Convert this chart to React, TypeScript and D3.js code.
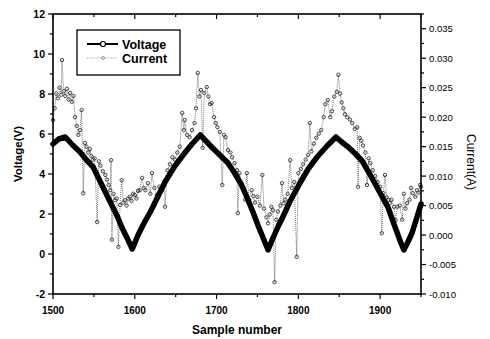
import * as d3 from "d3";

// ── Data ──────────────────────────────────────────────────
const voltSample = [
  1500, 1507, 1515, 1524, 1533, 1541, 1549, 1555, 1561, 1567, 1573, 1579, 1584, 1590, 1597,
  1604, 1612, 1619, 1628, 1637, 1649, 1661, 1670, 1680, 1687, 1694, 1704, 1714, 1722, 1730,
  1737, 1744, 1751, 1757, 1763, 1769, 1775, 1781, 1790, 1802, 1812, 1823, 1835, 1846, 1853,
  1861, 1870, 1878, 1886, 1894, 1902, 1910, 1916, 1921, 1925, 1929, 1934, 1939, 1944, 1950,
];
const voltage = [
  5.5, 5.75, 5.85, 5.45, 5.1, 4.7, 4.35, 3.85, 3.35, 2.85, 2.35, 1.85, 1.35, 0.85, 0.25,
  0.95, 1.6, 2.1, 2.85, 3.6, 4.4, 5.05, 5.5, 5.95, 5.65, 5.35, 4.95, 4.55, 4.05, 3.5,
  2.85, 2.15, 1.4, 0.8, 0.2, 0.8, 1.35, 1.85, 2.65, 3.55, 4.25, 4.85, 5.4, 5.85, 5.6,
  5.35, 5.0, 4.65, 4.1, 3.5, 2.9, 2.3, 1.6, 1.05, 0.6, 0.2, 0.6, 1.05, 1.7, 2.5,
];

const curSample = [
  1500, 1502, 1504, 1506, 1508, 1510, 1511, 1513, 1515, 1517, 1519, 1521, 1523, 1525, 1527,
  1529, 1531, 1533, 1535, 1537, 1539, 1541, 1543, 1545, 1547, 1549, 1551, 1554, 1556, 1558,
  1561, 1564, 1566, 1568, 1570, 1571, 1572, 1574, 1576, 1578, 1580, 1582, 1584, 1586, 1588,
  1590, 1592, 1594, 1596, 1598, 1600, 1602, 1604, 1606, 1609, 1611, 1613, 1616, 1619, 1621,
  1624, 1627, 1630, 1633, 1636, 1637, 1640, 1643, 1646, 1649, 1652, 1655, 1658, 1660, 1661,
  1664, 1667, 1670, 1673, 1675, 1677, 1679, 1681, 1683, 1685, 1688, 1690, 1692, 1694, 1697,
  1699, 1701, 1704, 1707, 1709, 1711, 1714, 1717, 1719, 1722, 1725, 1726, 1728, 1731, 1733,
  1735, 1737, 1740, 1743, 1745, 1747, 1750, 1753, 1756, 1758, 1761, 1763, 1765, 1767, 1769,
  1771, 1773, 1775, 1778, 1780, 1782, 1784, 1787, 1790, 1792, 1795, 1798, 1800, 1803, 1806,
  1809, 1812, 1814, 1816, 1819, 1822, 1825, 1828, 1831, 1833, 1836, 1839, 1841, 1844, 1847,
  1849, 1851, 1853, 1855, 1857, 1860, 1863, 1866, 1869, 1872, 1873, 1875, 1877, 1879, 1882,
  1884, 1886, 1888, 1891, 1894, 1897, 1900, 1902, 1904, 1906, 1908, 1910, 1912, 1914, 1917,
  1919, 1921, 1924, 1927, 1929, 1931, 1933, 1936, 1938, 1940, 1943, 1945, 1947, 1949, 1950,
];
const current = [
  0.0195, 0.0215, 0.024, 0.0232, 0.025, 0.0238, 0.0297, 0.0244, 0.0236, 0.0248, 0.023, 0.0241, 0.0226, 0.0236, 0.02,
  0.0185, 0.017, 0.0178, 0.0212, 0.0071, 0.0156, 0.015, 0.014, 0.0146, 0.0134, 0.0128, 0.013, 0.0022, 0.0125, 0.0118,
  0.0108, 0.0102, 0.0094, 0.0085, 0.0076, 0.0127, -0.0008, 0.007, 0.0059, 0.0062, -0.002, 0.0051, 0.0093, 0.0055, 0.0059,
  0.005, 0.0062, 0.0065, 0.0058, 0.007, 0.0068, 0.0062, 0.0075, 0.0076, 0.0097, 0.008, 0.0076, 0.0088, 0.007, 0.0105,
  0.008, 0.0068, 0.0082, 0.0075, 0.009, 0.0048, 0.011, 0.012, 0.0132, 0.0128, 0.014, 0.015, 0.0207, 0.0178, 0.0195,
  0.017, 0.0166, 0.0178, 0.019, 0.0215, 0.0275, 0.0235, 0.0246, 0.0148, 0.0241, 0.0251, 0.0235, 0.0222, 0.0224, 0.02,
  0.019, 0.0183, 0.0175, 0.0085, 0.017, 0.0166, 0.0144, 0.014, 0.0132, 0.0122, 0.011, 0.0037, 0.0105, 0.0082, 0.0078,
  0.006, 0.0105, 0.006, 0.0076, 0.0066, 0.0055, 0.0065, 0.005, 0.0102, 0.0045, 0.003, 0.002, 0.0035, 0.0048, 0.0042,
  -0.008, 0.0026, 0.004, 0.005, 0.0088, 0.0054, 0.006, 0.007, 0.0127, 0.008, 0.009, -0.0037, 0.0105, 0.0112, 0.012,
  0.0128, 0.0136, 0.019, 0.0142, 0.0155, 0.0165, 0.0172, 0.0178, 0.02, 0.0222, 0.0229, 0.02, 0.021, 0.0235, 0.0243,
  0.0272, 0.024, 0.0225, 0.0215, 0.0205, 0.02, 0.0196, 0.019, 0.018, 0.0183, 0.0082, 0.0165, 0.016, 0.0152, 0.014,
  0.0085, 0.013, 0.0122, 0.011, 0.01, 0.009, 0.0082, 0.0003, 0.0071, 0.0102, 0.0064, 0.006, 0.0054, 0.006, 0.0048,
  0.0025, 0.0048, 0.005, 0.0026, 0.007, 0.0045, 0.0054, 0.006, 0.008, 0.0071, 0.0065, 0.0076, 0.0072, 0.0085, 0.0082,
];

const xTicks = [1500, 1600, 1700, 1800, 1900];
const vTicks = [-2, 0, 2, 4, 6, 8, 10, 12];
const iTicks = [-0.01, -0.005, 0, 0.005, 0.01, 0.015, 0.02, 0.025, 0.03, 0.035];

// ── Layout ────────────────────────────────────────────────
const W = 490;
const H = 339;
const m = { left: 53, right: 421, top: 14, bottom: 294 };
const FONT = "'Liberation Sans', Arial, sans-serif";

const x = d3.scaleLinear().domain([1500, 1950]).range([m.left, m.right]);
const yV = d3.scaleLinear().domain([-2, 12]).range([m.bottom, m.top]);
const yI = d3.scaleLinear().domain([-0.01, 0.0375]).range([m.bottom, m.top]);

const vPts = voltSample.map((s, i) => [s, voltage[i]] as [number, number]);
const iPts = curSample.map((s, i) => [s, current[i]] as [number, number]);

const vLine = d3.line<[number, number]>().x(d => x(d[0])).y(d => yV(d[1]));
const iLine = d3.line<[number, number]>().x(d => x(d[0])).y(d => yI(d[1]));

const xMinor = d3.range(1500, 1951, 50);
const vMinor = d3.range(-2, 12.01, 1);
const iMinor = d3.range(-0.01, 0.0376, 0.0025);

export default function App() {
  return (
    <svg width={W} height={H} viewBox={`0 0 ${W} ${H}`}
      style={{ position: "absolute", left: 0, top: 0, background: "#fff" }}
      fontFamily={FONT}>

      {/* current */}
      <path d={iLine(iPts) ?? ""} fill="none" stroke="#666" strokeWidth={0.9}
        strokeDasharray="1 1" />
      {iPts.map((d, i) => (
        <circle key={i} cx={x(d[0])} cy={yI(d[1])} r={1.7}
          fill="none" stroke="#333" strokeWidth={0.9} />
      ))}

      {/* voltage */}
      <path d={vLine(vPts) ?? ""} fill="none" stroke="#000" strokeWidth={5.5}
        strokeLinejoin="round" strokeLinecap="round" />

      {/* frame */}
      <rect x={m.left} y={m.top} width={m.right - m.left} height={m.bottom - m.top}
        fill="none" stroke="#000" strokeWidth={1.6} />

      {/* x ticks */}
      {xMinor.map(t => {
        const major = t % 100 === 0;
        const len = major ? 5 : 3;
        return (
          <g key={t}>
            <line x1={x(t)} x2={x(t)} y1={m.bottom} y2={m.bottom + len} stroke="#000" strokeWidth={1.2} />
            <line x1={x(t)} x2={x(t)} y1={m.top} y2={m.top + len} stroke="#000" strokeWidth={1.2} />
          </g>
        );
      })}
      {xTicks.map(t => (
        <text key={t} x={x(t)} y={314} textAnchor="middle" fontSize={10}
          fontWeight={700}>{t}</text>
      ))}

      {/* left axis */}
      {vMinor.map(t => (
        <line key={t} x1={m.left - (t % 2 === 0 ? 5 : 3)} x2={m.left}
          y1={yV(t)} y2={yV(t)} stroke="#000" strokeWidth={1.2} />
      ))}
      {vTicks.map(t => (
        <text key={t} x={m.left - 8} y={yV(t) + 3.5} textAnchor="end" fontSize={10.5}
          fontWeight={700}>{t}</text>
      ))}

      {/* right axis */}
      {iMinor.map((t, i) => (
        <line key={i} x1={m.right} x2={m.right + (i % 2 === 0 ? 5 : 3)}
          y1={yI(t)} y2={yI(t)} stroke="#000" strokeWidth={1.2} />
      ))}
      {iTicks.map(t => (
        <text key={t} x={m.right + 8} y={yI(t) + 3.5} fontSize={9.5}>
          {t.toFixed(3)}
        </text>
      ))}

      {/* axis titles */}
      <text x={237} y={334} textAnchor="middle" fontSize={12} fontWeight={700}>
        Sample number
      </text>
      <text transform={`translate(22, ${(m.top + m.bottom) / 2}) rotate(-90)`}
        textAnchor="middle" fontSize={11.5} fontWeight={700}>
        Voltage(V)
      </text>
      <text transform={`translate(467, 162) rotate(90)`}
        textAnchor="middle" fontSize={12}>
        Current(A)
      </text>

      {/* legend */}
      <rect x={77} y={30} width={103} height={45} fill="#fff" stroke="#000" strokeWidth={1.3} />
      <line x1={87} x2={118} y1={44} y2={44} stroke="#000" strokeWidth={2} />
      <circle cx={103} cy={44} r={2.5} fill="#fff" stroke="#000" strokeWidth={1.2} />
      <text x={122} y={48.5} fontSize={12.5} fontWeight={700}>Voltage</text>
      <line x1={87} x2={118} y1={58} y2={58} stroke="#888" strokeWidth={0.8} strokeDasharray="1 1.2" />
      <circle cx={103} cy={58} r={1.5} fill="none" stroke="#777" strokeWidth={0.7} />
      <text x={122} y={62.5} fontSize={12.5} fontWeight={700}>Current</text>
    </svg>
  );
}
